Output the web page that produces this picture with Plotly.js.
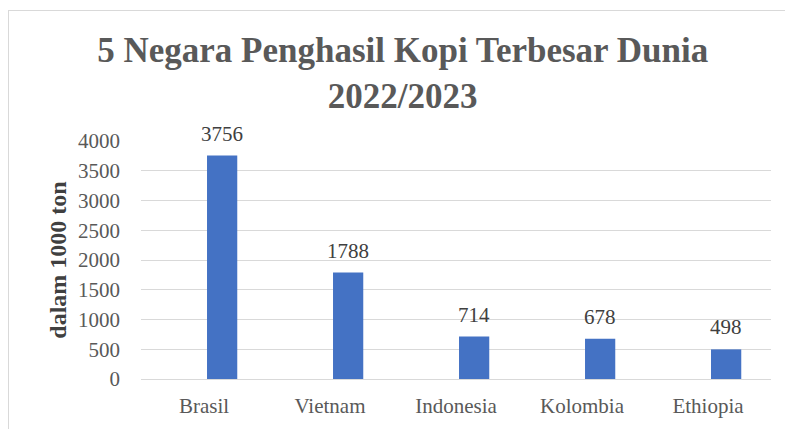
<!DOCTYPE html>
<html>
<head>
<meta charset="utf-8">
<script src="https://cdn.plot.ly/plotly-3.0.1.min.js"></script>
<style>
html,body{margin:0;padding:0;background:#fff;}
#frame{position:absolute;left:8px;top:10px;width:800px;height:430px;border:1px solid #d9d9d9;box-sizing:border-box;}
#chart{position:absolute;left:0;top:0;width:785px;height:429px;}
</style>
</head>
<body>
<div id="frame"></div>
<div id="chart"></div>
<script>
const categories = ["Brasil", "Vietnam", "Indonesia", "Kolombia", "Ethiopia"];
const values = [3756, 1788, 714, 678, 498];
const yTicks = [0, 500, 1000, 1500, 2000, 2500, 3000, 3500, 4000];

const serif = '"Liberation Serif", "Times New Roman", serif';

const trace = {
  type: 'bar',
  x: categories,
  y: values,
  width: 0.24,
  offset: 0.024,
  marker: {color: '#4472C4'},
  cliponaxis: false,
  hoverinfo: 'none'
};

const labelAnnotations = categories.map((c, i) => ({
  x: c, y: values[i], xref: 'x', yref: 'y',
  text: String(values[i]),
  showarrow: false,
  xanchor: 'center', yanchor: 'bottom',
  xshift: 18, yshift: 8,
  font: {family: serif, size: 21, color: '#404040'}
}));

const layout = {
  width: 785,
  height: 429,
  margin: {l: 141, r: 14, t: 141, b: 50},
  paper_bgcolor: 'rgba(0,0,0,0)',
  plot_bgcolor: 'rgba(0,0,0,0)',
  showlegend: false,
  annotations: labelAnnotations,
  title: {
    text: '<b>5 Negara Penghasil Kopi Terbesar Dunia<br>2022/2023</b>',
    font: {family: serif, size: 35, color: '#595959'},
    xref: 'container', x: 0.513, xanchor: 'center',
    yref: 'container', y: 1 - 62/429, yanchor: 'top'
  },
  xaxis: {
    type: 'category',
    tickfont: {family: serif, size: 21, color: '#595959'},
    showline: false, showgrid: false, zeroline: false,
    ticks: '', ticklabelstandoff: 12
  },
  yaxis: {
    range: [0, 4000],
    tickvals: yTicks,
    ticktext: yTicks.map(String),
    tickfont: {family: serif, size: 21, color: '#595959'},
    showgrid: true, gridcolor: '#d9d9d9', gridwidth: 1,
    zeroline: true, zerolinecolor: '#d9d9d9', zerolinewidth: 1,
    showline: false, ticks: '', ticklabelstandoff: 20,
    title: {text: '<b>dalam 1000 ton</b>', font: {family: serif, size: 24, color: '#404040'}, standoff: 4},
    automargin: false
  }
};

Plotly.newPlot('chart', [trace], layout, {staticPlot: true, displayModeBar: false});
</script>
</body>
</html>
